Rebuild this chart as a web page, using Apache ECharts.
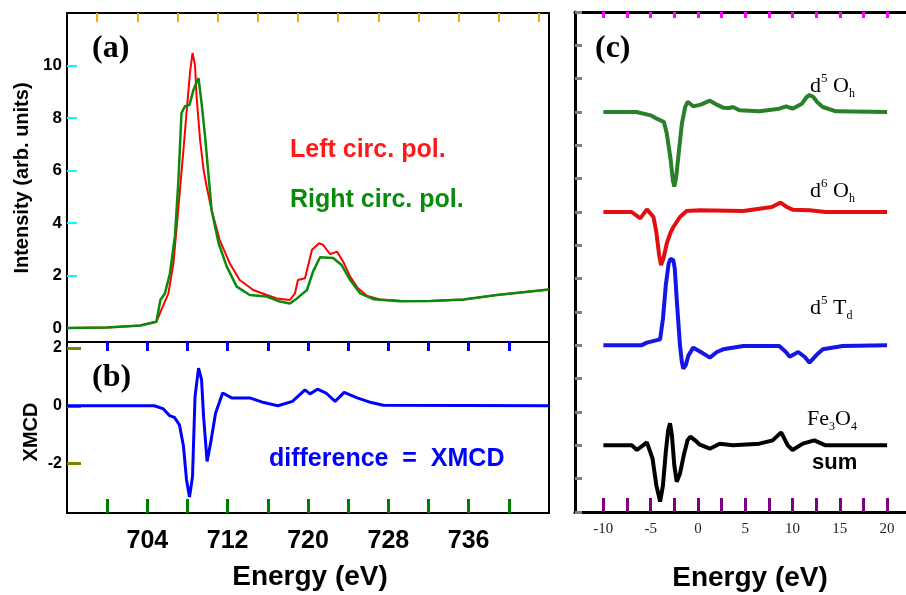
<!DOCTYPE html>
<html>
<head>
<meta charset="utf-8">
<script src="https://cdn.jsdelivr.net/npm/echarts@6/dist/echarts.min.js"></script>
</head>
<body style="margin:0">
<div id="c" style="width:906px;height:595px"></div>
<script>
// (a) absorption, left / right circular polarisation
var leftE = [696, 700, 703.3, 704.9, 705.4, 706.1, 706.6, 706.9, 707.25, 707.6, 707.9, 708.25, 708.5, 708.75, 708.9, 709.25, 709.6, 709.9, 710.4, 711.2, 712.2, 713.2, 714.55, 715.9, 716.9, 718.2, 718.7, 719.0, 719.7, 720.4, 721.1, 721.5, 722.2, 722.9, 723.5, 724.2, 724.9, 725.9, 727.2, 729.2, 732.2, 735.5, 738.8, 744];
var leftI = [0, 0.02, 0.1, 0.24, 0.69, 1.32, 2.47, 3.74, 5.27, 6.8, 8.19, 9.73, 10.48, 10.0, 8.85, 7.18, 6.03, 5.4, 4.5, 3.36, 2.47, 1.83, 1.45, 1.26, 1.13, 1.07, 1.32, 1.83, 1.9, 2.98, 3.23, 3.17, 2.82, 2.91, 2.53, 1.96, 1.55, 1.22, 1.09, 1.04, 1.03, 1.09, 1.26, 1.47];
var rightE = [696, 700, 703.3, 704.9, 705.3, 705.75, 706.25, 706.75, 707.1, 707.4, 707.75, 708.2, 708.6, 709.1, 709.4, 709.75, 710.1, 710.4, 711.1, 711.9, 712.9, 714.2, 715.9, 717.2, 718.2, 718.9, 719.9, 720.5, 721.2, 722.5, 723.35, 724.2, 725.2, 726.5, 729.2, 732.2, 735.5, 738.8, 744];
var rightI = [0, 0.02, 0.1, 0.24, 1.07, 1.32, 2.08, 3.5, 5.65, 8.19, 8.45, 8.5, 9.08, 9.52, 8.58, 7.3, 5.8, 4.5, 3.23, 2.35, 1.58, 1.26, 1.2, 1.01, 0.94, 1.13, 1.45, 2.15, 2.7, 2.67, 2.4, 1.83, 1.32, 1.1, 1.02, 1.03, 1.09, 1.26, 1.47];

// (b) difference
var xmcdE = [696, 704.7, 705.6, 706.2, 706.7, 707.2, 707.6, 707.9, 708.2, 708.5, 708.75, 709.1, 709.4, 709.6, 709.95, 710.3, 710.8, 711.5, 712.4, 714.2, 715.6, 717.0, 718.45, 719.7, 720.2, 720.95, 721.8, 722.7, 723.6, 724.9, 726.3, 727.5, 744];
var xmcdV = [0, 0, -0.11, -0.34, -0.4, -0.66, -1.4, -2.55, -3.15, -2.44, 0.32, 1.3, 0.9, -0.37, -1.92, -1.29, -0.25, 0.44, 0.27, 0.27, 0.11, 0.0, 0.15, 0.55, 0.41, 0.57, 0.44, 0.15, 0.46, 0.27, 0.11, 0.02, 0];

// (c) calculated spectra, relative to their own baseline
var d5OhE = [-10, -6.5, -5.0, -4.35, -3.6, -3.3, -2.9, -2.65, -2.5, -2.3, -2.0, -1.7, -1.35, -1.08, -0.5, 0.3, 1.26, 2.0, 2.66, 3.3, 3.7, 4.4, 6.5, 8.6, 9.33, 10.0, 11.0, 11.5, 11.8, 12.2, 12.6, 13.2, 14.6, 20];
var d5OhV = [0, 0, -0.1, -0.2, -0.3, -0.64, -1.4, -2.05, -2.24, -1.95, -1.14, -0.35, 0.15, 0.31, 0.17, 0.22, 0.34, 0.22, 0.13, 0.12, 0.15, 0.05, 0.02, 0.1, 0.17, 0.1, 0.25, 0.45, 0.51, 0.45, 0.3, 0.15, 0.02, 0];
var d6OhE = [-10, -7, -6.1, -5.4, -4.7, -4.4, -4.1, -3.9, -3.65, -3.3, -2.9, -2.6, -1.9, -1.2, 0.2, 4.8, 6.5, 7.8, 8.74, 9.4, 10, 11.8, 13.5, 20];
var d6OhV = [0, 0, -0.19, 0.08, -0.15, -0.6, -1.3, -1.59, -1.4, -0.95, -0.62, -0.45, -0.15, 0.03, 0.05, 0.03, 0.1, 0.15, 0.28, 0.15, 0.07, 0.05, 0, 0];
var d5TdE = [-10, -6, -5.4, -4.0, -3.7, -3.4, -3.1, -2.9, -2.77, -2.6, -2.45, -2.2, -1.9, -1.7, -1.55, -1.3, -1.0, -0.5, 0.3, 1.26, 2.0, 2.66, 4.8, 8.6, 9.3, 9.7, 10.6, 11.3, 11.8, 12.5, 13.2, 15.3, 20];
var d5TdV = [0, 0, 0.08, 0.18, 0.8, 1.8, 2.45, 2.6, 2.63, 2.55, 2.3, 1.2, 0.0, -0.5, -0.7, -0.6, -0.3, -0.07, -0.2, -0.37, -0.2, -0.12, -0.02, -0.02, -0.2, -0.34, -0.2, -0.35, -0.52, -0.3, -0.12, -0.02, 0];
var sumE = [-10, -7, -6.45, -5.4, -4.8, -4.4, -4.0, -3.7, -3.4, -3.15, -2.95, -2.75, -2.5, -2.24, -1.9, -1.5, -1.1, -0.8, -0.3, 0.2, 1.26, 2.3, 3.7, 6.5, 7.9, 8.8, 9.5, 10.0, 11.1, 12.3, 13.5, 20];
var sumV = [0, 0, -0.14, 0.09, -0.4, -1.2, -1.69, -1.2, -0.2, 0.45, 0.66, 0.3, -0.6, -1.09, -0.85, -0.3, 0.15, 0.26, 0.15, 0.02, -0.1, 0.05, 0, 0.05, 0.15, 0.39, 0.0, -0.14, 0.05, 0.15, 0, 0];
var cOffsets = [12, 9, 5, 2];

var eT = [700, 704, 708, 712, 716, 720, 724, 728, 732, 736, 740];
var eL = [704, 712, 720, 728, 736];
var tA = [699, 703, 707, 711, 715, 719, 723, 727, 731, 735, 739, 743];
var iT = [0, 2, 4, 6, 8, 10];
var xT = [-2, 0, 2];
var rT = [-10, -7.5, -5, -2.5, 0, 2.5, 5, 7.5, 10, 12.5, 15, 17.5, 20];
var rL = [-10, -5, 0, 5, 10, 15, 20];
var oT = [0, 1, 2, 3, 4, 5, 6, 7, 8, 9, 10, 11, 12, 13, 14, 15];

function pairs(xs, ys, off) {
    off = off || 0;
    return xs.map(function (x, i) { return [x, ys[i] + off]; });
}

var sans = 'Liberation Sans, Arial, sans-serif';
var serif = 'Liberation Serif, Times New Roman, serif';

function ax(grid, pos, min, max, lw, ticks, len, labels, lbl, tc, tw) {
    return {
        type: 'value', gridIndex: grid, position: pos, min: min, max: max,
        axisLine: { show: true, onZero: false, lineStyle: { color: 'black', width: lw } },
        splitLine: { show: false },
        axisTick: ticks ? { show: true, inside: true, length: len, customValues: ticks,
            lineStyle: { color: tc || 'black', width: tw || lw } } : { show: false },
        axisLabel: labels ? Object.assign({ show: true, customValues: labels }, lbl) : { show: false }
    };
}

var chemRich = function (color) {
    return {
        m: { fontFamily: serif, fontSize: 22, color: color, lineHeight: 28 },
        sup: { fontFamily: serif, fontSize: 13, color: color, lineHeight: 14, verticalAlign: 'top' },
        sub: { fontFamily: serif, fontSize: 12, color: color, lineHeight: 12, verticalAlign: 'bottom' }
    };
};

var xLbl = { fontFamily: sans, fontWeight: 'bold', fontSize: 25, color: '#000', margin: 16 };
var cLbl = { fontFamily: serif, fontSize: 15, color: '#222', margin: 10 };
var yLblA = { fontFamily: sans, fontWeight: 'bold', fontSize: 17, color: '#000', margin: 5 };
var yLblB = { fontFamily: sans, fontWeight: 'bold', fontSize: 16, color: '#000', margin: 5 };

var ch = echarts.init(document.getElementById('c'));
ch.setOption({
    animation: false,
    backgroundColor: '#fff',
    grid: [
        { left: 67, top: 13, width: 482, height: 329 },
        { left: 67, top: 342, width: 482, height: 171 },
        { left: 575, top: 12, width: 334, height: 500 }
    ],
    xAxis: [
        ax(0, 'bottom', 696, 744, 2),
        ax(0, 'top', 696, 744, 2, tA, 9, null, null, 'orange'),
        ax(1, 'bottom', 696, 744, 2, eT, 14, eL, xLbl, 'green', 3),
        ax(1, 'top', 696, 744, 2, eT, 9, null, null, 'blue', 3),
        ax(2, 'bottom', -13, 22, 3, rT, 14, rL, cLbl, 'purple', 3),
        ax(2, 'top', -13, 22, 3, rT, 6, null, null, 'magenta')
    ],
    yAxis: [
        ax(0, 'left', -0.53, 12, 2, iT, 10, iT, yLblA, 'cyan', 2),
        ax(0, 'right', -0.53, 12, 2),
        ax(1, 'left', -3.7, 2.2, 2, xT, 14, xT, yLblB, 'olive', 3),
        ax(1, 'right', -3.7, 2.2, 2),
        ax(2, 'left', 0, 15, 3, oT, 7, null, null, 'gray')
    ],
    series: [
        { type: 'line', xAxisIndex: 0, yAxisIndex: 0, showSymbol: false, data: pairs(leftE, leftI),
          lineStyle: { color: '#ff0000', width: 2 } },
        { type: 'line', xAxisIndex: 0, yAxisIndex: 0, showSymbol: false, data: pairs(rightE, rightI),
          lineStyle: { color: '#0a8a0a', width: 2.5 } },
        { type: 'line', xAxisIndex: 2, yAxisIndex: 2, showSymbol: false, data: pairs(xmcdE, xmcdV),
          lineStyle: { color: '#0000ff', width: 3 } },
        { type: 'line', xAxisIndex: 4, yAxisIndex: 4, showSymbol: false, data: pairs(d5OhE, d5OhV, cOffsets[0]),
          lineStyle: { color: '#2a7f2a', width: 4 } },
        { type: 'line', xAxisIndex: 4, yAxisIndex: 4, showSymbol: false, data: pairs(d6OhE, d6OhV, cOffsets[1]),
          lineStyle: { color: '#e01010', width: 4 } },
        { type: 'line', xAxisIndex: 4, yAxisIndex: 4, showSymbol: false, data: pairs(d5TdE, d5TdV, cOffsets[2]),
          lineStyle: { color: '#1515e6', width: 4 } },
        { type: 'line', xAxisIndex: 4, yAxisIndex: 4, showSymbol: false, data: pairs(sumE, sumV, cOffsets[3]),
          lineStyle: { color: '#000', width: 4 } }
    ],
    graphic: [
        { type: 'text', left: 92, top: 33, style: { text: '(a)', font: 'bold 32px ' + serif, fill: '#000' } },
        { type: 'text', left: 92, top: 362, style: { text: '(b)', font: 'bold 32px ' + serif, fill: '#000' } },
        { type: 'text', left: 595, top: 33, style: { text: '(c)', font: 'bold 32px ' + serif, fill: '#000' } },
        { type: 'text', left: 290, top: 138, style: { text: 'Left circ. pol.', font: 'bold 25px ' + sans, fill: '#ff1a1a' } },
        { type: 'text', left: 290, top: 188, style: { text: 'Right circ. pol.', font: 'bold 25px ' + sans, fill: '#0a8a0a' } },
        { type: 'text', left: 269, top: 447, style: { text: 'difference  =  XMCD', font: 'bold 25px ' + sans, fill: '#0000ff' } },
        { type: 'text', x: 22, y: 178, rotation: Math.PI / 2,
          style: { text: 'Intensity (arb. units)', font: 'bold 20px ' + sans, fill: '#000', align: 'center', verticalAlign: 'middle' } },
        { type: 'text', x: 31, y: 432, rotation: Math.PI / 2,
          style: { text: 'XMCD', font: 'bold 20px ' + sans, fill: '#000', align: 'center', verticalAlign: 'middle' } },
        { type: 'text', x: 310, y: 577,
          style: { text: 'Energy (eV)', font: 'bold 28px ' + sans, fill: '#000', align: 'center', verticalAlign: 'middle' } },
        { type: 'text', x: 750, y: 578,
          style: { text: 'Energy (eV)', font: 'bold 28px ' + sans, fill: '#000', align: 'center', verticalAlign: 'middle' } },
        { type: 'text', x: 810, y: 86,
          style: { text: '{m|d}{sup|5}{m| O}{sub|h}', rich: chemRich('#2e8b3a'), verticalAlign: 'middle' } },
        { type: 'text', x: 810, y: 191,
          style: { text: '{m|d}{sup|6}{m| O}{sub|h}', rich: chemRich('#c0282d'), verticalAlign: 'middle' } },
        { type: 'text', x: 810, y: 308,
          style: { text: '{m|d}{sup|5}{m| T}{sub|d}', rich: chemRich('#2323b4'), verticalAlign: 'middle' } },
        { type: 'text', x: 807, y: 419,
          style: { text: '{m|Fe}{sub|3}{m|O}{sub|4}', rich: chemRich('#333'), verticalAlign: 'middle' } },
        { type: 'text', x: 812, y: 463,
          style: { text: 'sum', font: 'bold 22px ' + sans, fill: '#000', verticalAlign: 'middle' } }
    ]
});
</script>
</body>
</html>
